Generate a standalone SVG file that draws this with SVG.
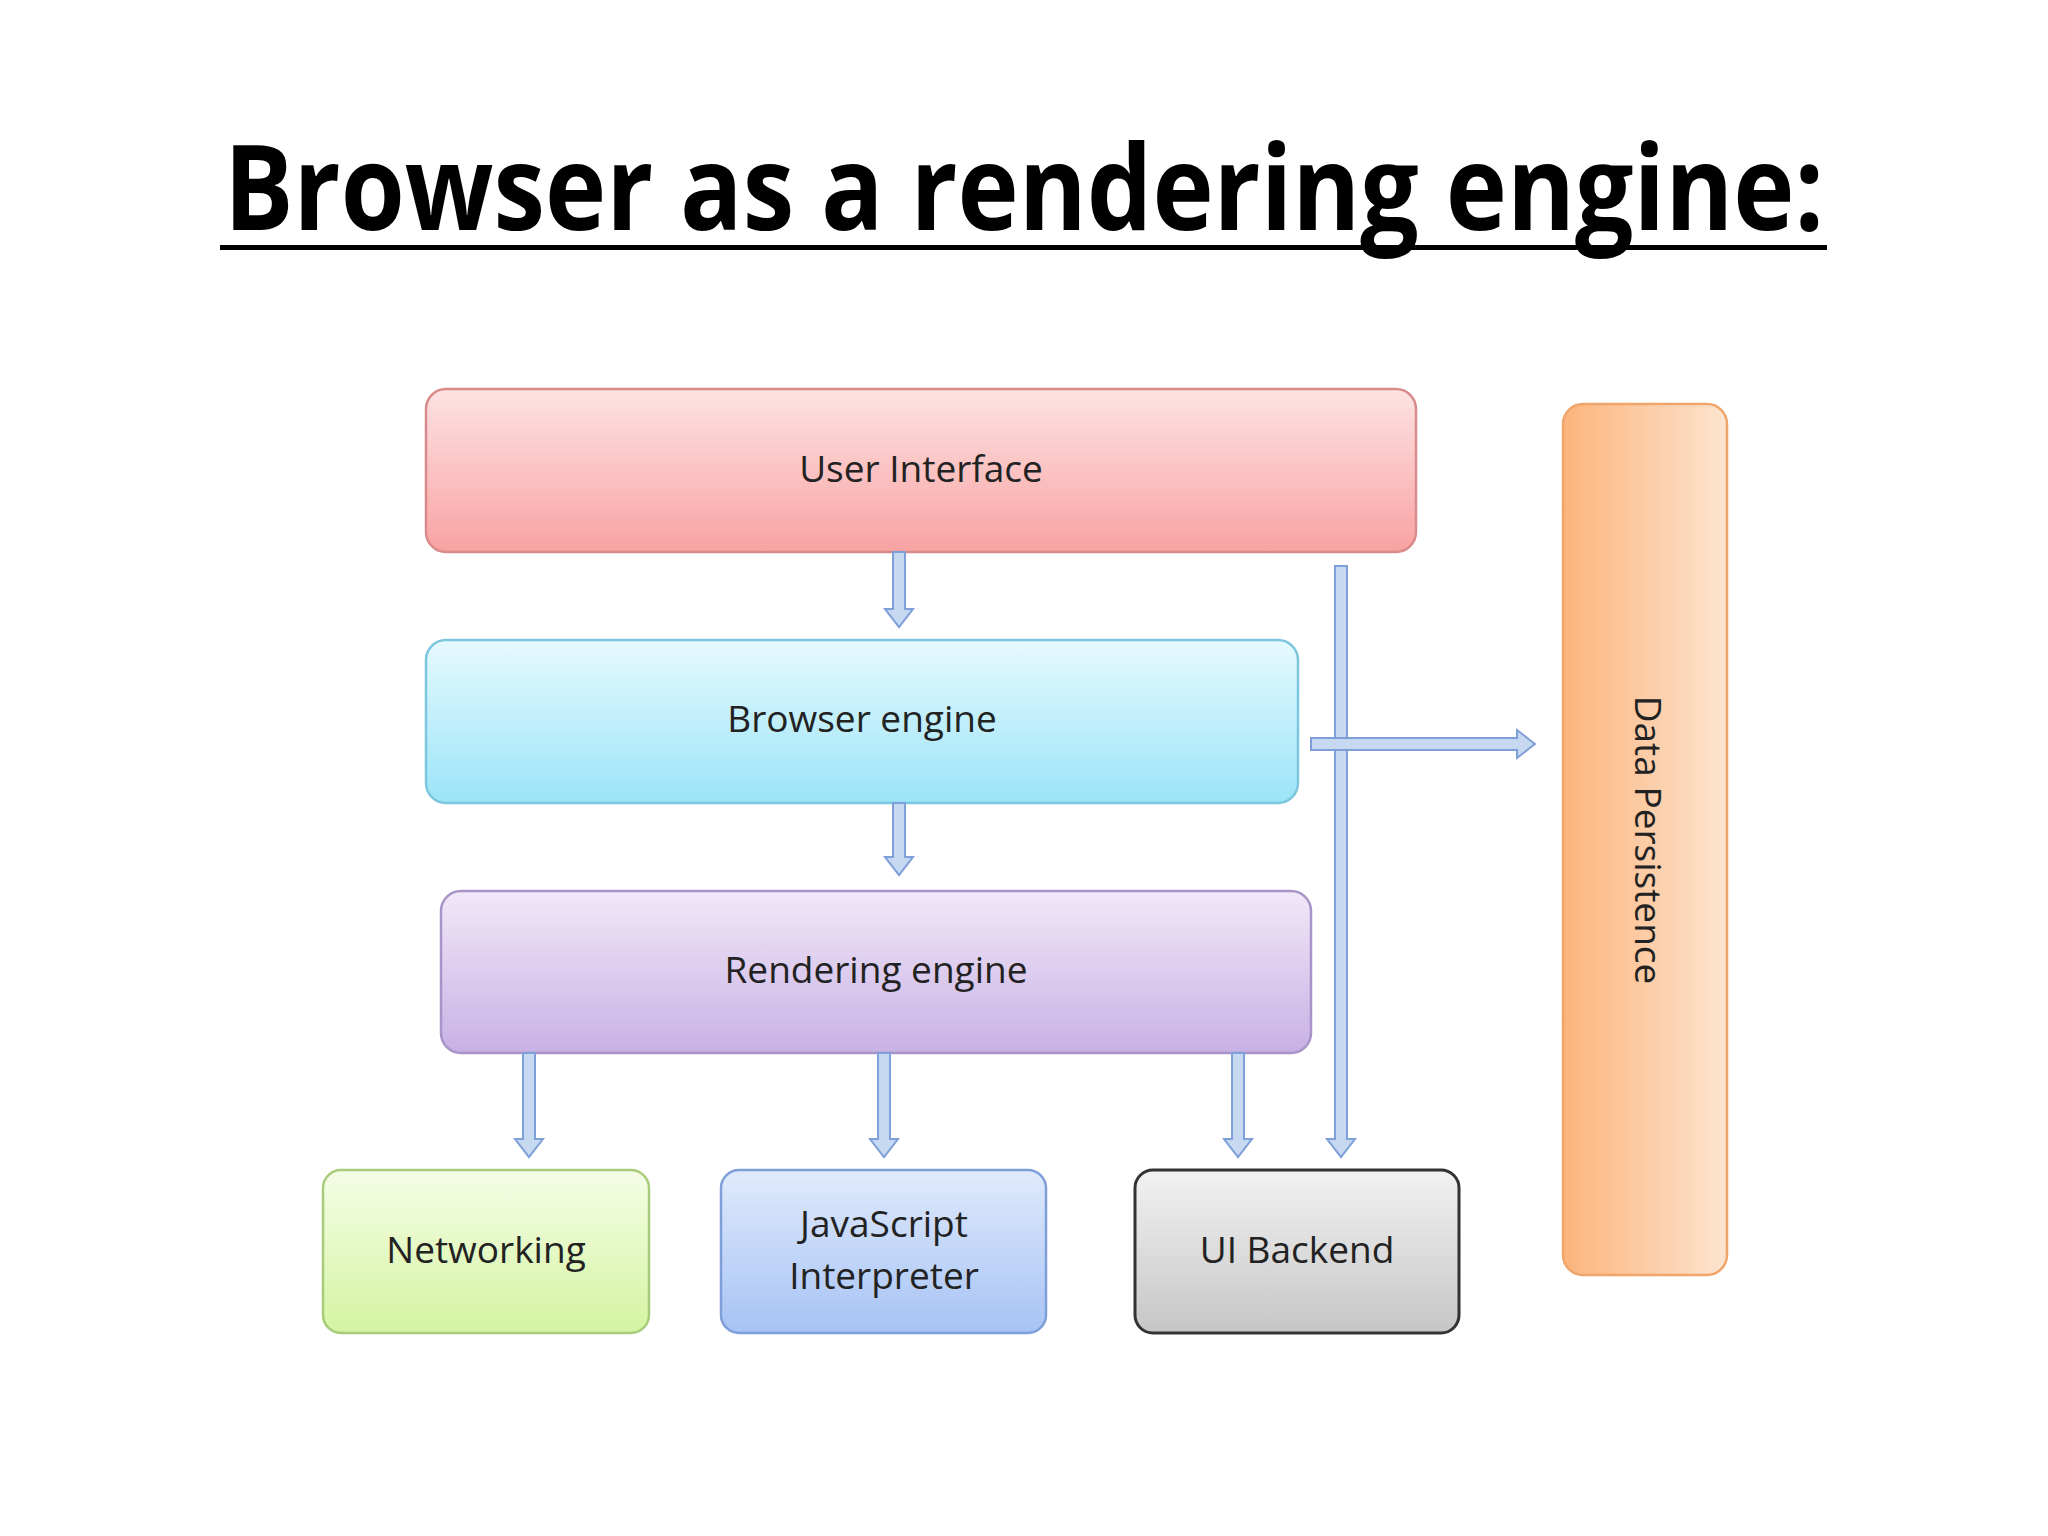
<svg xmlns="http://www.w3.org/2000/svg" width="2048" height="1536" viewBox="0 0 2048 1536">
<style>
.lbl{font-family:"Open Sans","Liberation Sans",sans-serif;font-size:37px;fill:#222;text-anchor:middle;dominant-baseline:middle}
.arr{fill:#c6d9f1;stroke:#7f9fd9;stroke-width:2}
.box{stroke-width:2.5}
</style>
<defs>
<linearGradient id="gUI" x1="0" y1="0" x2="0" y2="1"><stop offset="0" stop-color="#fde3e3"/><stop offset="1" stop-color="#f9a2a2"/></linearGradient>
<linearGradient id="gBE" x1="0" y1="0" x2="0" y2="1"><stop offset="0" stop-color="#e6fafe"/><stop offset="1" stop-color="#9be4f8"/></linearGradient>
<linearGradient id="gRE" x1="0" y1="0" x2="0" y2="1"><stop offset="0" stop-color="#f1e8f8"/><stop offset="1" stop-color="#c8b1e5"/></linearGradient>
<linearGradient id="gNet" x1="0" y1="0" x2="0" y2="1"><stop offset="0" stop-color="#f5fde6"/><stop offset="1" stop-color="#d4f4a2"/></linearGradient>
<linearGradient id="gJS" x1="0" y1="0" x2="0" y2="1"><stop offset="0" stop-color="#dfeafc"/><stop offset="1" stop-color="#a7c3f4"/></linearGradient>
<linearGradient id="gUIB" x1="0" y1="0" x2="0" y2="1"><stop offset="0" stop-color="#f2f2f2"/><stop offset="1" stop-color="#c6c6c6"/></linearGradient>
<linearGradient id="gDP" x1="0" y1="0" x2="1" y2="0"><stop offset="0" stop-color="#fbb47c"/><stop offset="1" stop-color="#fde4cf"/></linearGradient>
</defs>
<rect width="2048" height="1536" fill="#fff"/>
<text x="1024" y="230" text-anchor="middle" font-family="Open Sans,Liberation Sans,sans-serif" font-weight="bold" font-size="118" textLength="1600" lengthAdjust="spacingAndGlyphs" fill="#000">Browser as a rendering engine:</text>
<rect x="220" y="245" width="1607" height="5" fill="#000"/>
<g id="ui"><rect class="box" x="426" y="389" width="990" height="163" rx="20" fill="url(#gUI)" stroke="#d98a8a"/><text class="lbl" x="921" y="472">User  Interface</text></g>
<g id="be"><rect class="box" x="426" y="640" width="872" height="163" rx="20" fill="url(#gBE)" stroke="#7cc7dd"/><text class="lbl" x="862" y="722">Browser engine</text></g>
<g id="re"><rect class="box" x="441" y="891" width="870" height="162" rx="20" fill="url(#gRE)" stroke="#a994c9"/><text class="lbl" x="876" y="973">Rendering engine</text></g>
<g id="net"><rect class="box" x="323" y="1170" width="326" height="163" rx="18" fill="url(#gNet)" stroke="#a9cc7c"/><text class="lbl" x="486" y="1253">Networking</text></g>
<g id="js"><rect class="box" x="721" y="1170" width="325" height="163" rx="18" fill="url(#gJS)" stroke="#7f9fd9"/><text class="lbl" x="884" y="1227">JavaScript</text><text class="lbl" x="884" y="1279">Interpreter</text></g>
<g id="uib"><rect x="1135" y="1170" width="324" height="163" rx="18" fill="url(#gUIB)" stroke="#333" stroke-width="3"/><text class="lbl" x="1297" y="1253">UI Backend</text></g>
<g id="dp"><rect class="box" x="1563" y="404" width="164" height="871" rx="20" fill="url(#gDP)" stroke="#f0a56a"/><text class="lbl" transform="translate(1645 840) rotate(90)">Data Persistence</text></g>
<g id="connectors">
<path class="arr" d="M893 552 L905 552 L905 609 L913 609 L899 627 L885 609 L893 609 Z"/>
<path class="arr" d="M893 803 L905 803 L905 857 L913 857 L899 875 L885 857 L893 857 Z"/>
<path class="arr" d="M523 1053 L535 1053 L535 1139 L543 1139 L529 1157 L515 1139 L523 1139 Z"/>
<path class="arr" d="M878 1053 L890 1053 L890 1139 L898 1139 L884 1157 L870 1139 L878 1139 Z"/>
<path class="arr" d="M1232 1053 L1244 1053 L1244 1139 L1252 1139 L1238 1157 L1224 1139 L1232 1139 Z"/>
<path class="arr" d="M1335 566 L1347 566 L1347 1139 L1355 1139 L1341 1157 L1327 1139 L1335 1139 Z"/>
<path class="arr" d="M1311 738 L1517 738 L1517 730 L1535 744 L1517 758 L1517 750 L1311 750 Z"/>
</g>
</svg>
